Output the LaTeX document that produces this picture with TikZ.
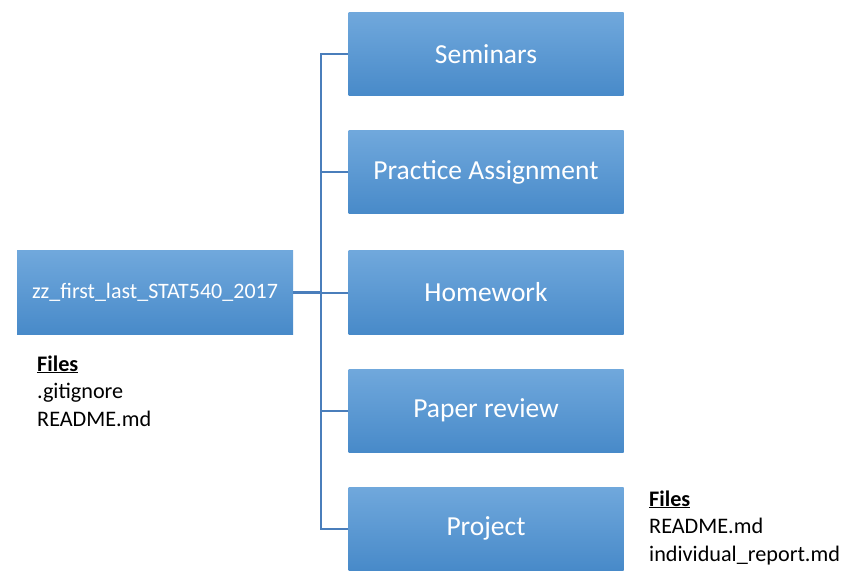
\documentclass[tikz,border=0pt]{standalone}
\usepackage{fontspec}
\setmainfont{Carlito}
\definecolor{boxtop}{RGB}{112,168,220}
\definecolor{boxbot}{RGB}{72,138,201}
\definecolor{linec}{RGB}{74,126,187}
\begin{document}
\begin{tikzpicture}[x=1pt,y=-1pt,
  boxnode/.style={rectangle, top color=boxtop, bottom color=boxbot, draw=none,
    minimum width=275pt, minimum height=83pt, text=white, inner sep=0pt,
    font=\fontsize{27.5}{32}\selectfont},
  rootnode/.style={boxnode, minimum width=276pt, font=\fontsize{22}{26}\selectfont},
  filetext/.style={anchor=base west, inner sep=0pt, font=\fontsize{22.2}{26}\selectfont},
  conn/.style={draw=linec, line width=2pt},
  rootconn/.style={draw=linec, line width=3.5pt}]
\useasboundingbox (0,0) rectangle (857,572);
\node[rootnode] (root) at (155,292.5) {zz\_first\_last\_STAT540\_2017};
\node[boxnode] (sem) at (486,54.5) {Seminars};
\node[boxnode] (prac) at (486,172.5) {Practice Assignment};
\node[boxnode] (hw) at (486,292.5) {Homework};
\node[boxnode] (pap) at (486,410.5) {Paper review};
\node[boxnode] (proj) at (486,528.5) {Project};
\coordinate (bus) at (321,292.5);
\draw[rootconn] (root.east) -- (bus);
\draw[conn] (sem.west) -| (bus);
\draw[conn] (prac.west) -| (bus);
\draw[conn] (hw.west) -- (bus);
\draw[conn] (pap.west) -| (bus);
\draw[conn] (proj.west) -| (bus);
\node[filetext] (lf) at (37,371) {\underline{\textbf{Files}}};
\node[filetext] (lg) at (37,398) {.gitignore};
\node[filetext] (lr) at (37,426) {README.md};
\node[filetext] (rf) at (649,506) {\underline{\textbf{Files}}};
\node[filetext] (rr) at (649,533) {README.md};
\node[filetext] (ri) at (649,561) {individual\_report.md};
\end{tikzpicture}
\end{document}
